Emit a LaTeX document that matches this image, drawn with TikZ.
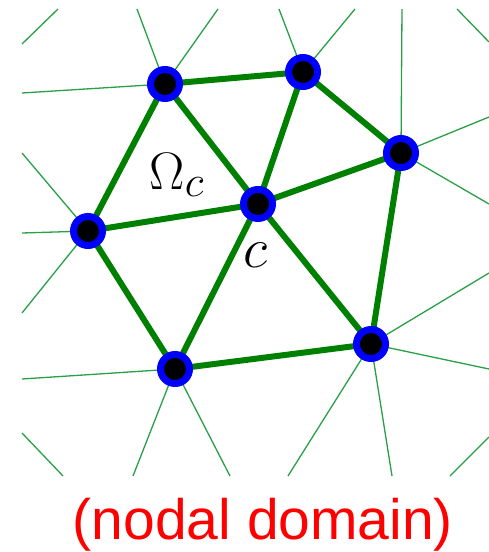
\documentclass[tikz,border=0pt]{standalone}
\usepackage{fontspec}
\newfontfamily\capfont{Liberation Sans}
\definecolor{thickgreen}{RGB}{0,128,0}
\definecolor{thingreen}{RGB}{40,160,70}
\definecolor{nodeblue}{RGB}{0,0,255}
\definecolor{capred}{RGB}{255,0,0}
\begin{document}
\begin{tikzpicture}[x=1pt,y=-1pt,
  thin edge/.style={draw=thingreen,line width=1.3pt},
  thick edge/.style={draw=thickgreen,line width=6pt},
  meshnode/.style={circle,fill=black,draw=nodeblue,line width=7pt,minimum size=29pt,inner sep=0pt}]
\useasboundingbox (0,0) rectangle (489,552);
% node positions
\coordinate (A) at (165,84);
\coordinate (B) at (303,72);
\coordinate (C) at (401,153);
\coordinate (c) at (258,204);
\coordinate (L) at (88,231);
\coordinate (BL) at (175,369);
\coordinate (BR) at (371,344);
% free ends of thin lines
\coordinate (a1) at (137,9);
\coordinate (a2) at (218,9);
\coordinate (a3) at (22,93);
\coordinate (b1) at (279,9);
\coordinate (b2) at (355,9);
\coordinate (c1) at (402,9);
\coordinate (c2) at (489,117);
\coordinate (c3) at (489,204);
\coordinate (l1) at (22,153);
\coordinate (l2) at (22,233);
\coordinate (l3) at (22,313);
\coordinate (m1) at (22,379);
\coordinate (m2) at (133,476);
\coordinate (m3) at (230,476);
\coordinate (r1) at (489,273);
\coordinate (r2) at (489,369);
\coordinate (r3) at (392,476);
\coordinate (r4) at (288,476);
\coordinate (i1) at (22,44);
\coordinate (i2) at (58,9);
\coordinate (i3) at (457,9);
\coordinate (i4) at (489,42);
\coordinate (i5) at (22,433);
\coordinate (i6) at (63,476);
\coordinate (i7) at (489,437);
\coordinate (i8) at (450,476);
% thin lines
\draw[thin edge] (A) -- (a1) (A) -- (a2) (A) -- (a3);
\draw[thin edge] (B) -- (b1) (B) -- (b2);
\draw[thin edge] (C) -- (c1) (C) -- (c2) (C) -- (c3);
\draw[thin edge] (L) -- (l1) (L) -- (l2) (L) -- (l3);
\draw[thin edge] (BL) -- (m1) (BL) -- (m2) (BL) -- (m3);
\draw[thin edge] (BR) -- (r1) (BR) -- (r2) (BR) -- (r3) (BR) -- (r4);
\draw[thin edge] (i1) -- (i2) (i3) -- (i4) (i5) -- (i6) (i7) -- (i8);
% thick edges
\draw[thick edge] (A) -- (B) (B) -- (C) (A) -- (c) (B) -- (c) (C) -- (c)
  (A) -- (L) (L) -- (c) (L) -- (BL) (c) -- (BL) (c) -- (BR) (C) -- (BR) (BL) -- (BR);
% nodes
\foreach \p in {A,B,C,c,L,BL,BR} \node[meshnode] (n\p) at (\p) {};
% labels
\node[anchor=base,inner sep=0pt,scale=2.12] (omega) at (177,189) {\Huge$\Omega_c$};
\node[anchor=base,inner sep=0pt,scale=2.29] (clabel) at (256,267) {\Huge$c$};
\node[anchor=base,inner sep=0pt,text=capred] (caption) at (263,539) {\capfont\fontsize{57}{64}\selectfont(nodal domain)};
\end{tikzpicture}
\end{document}
